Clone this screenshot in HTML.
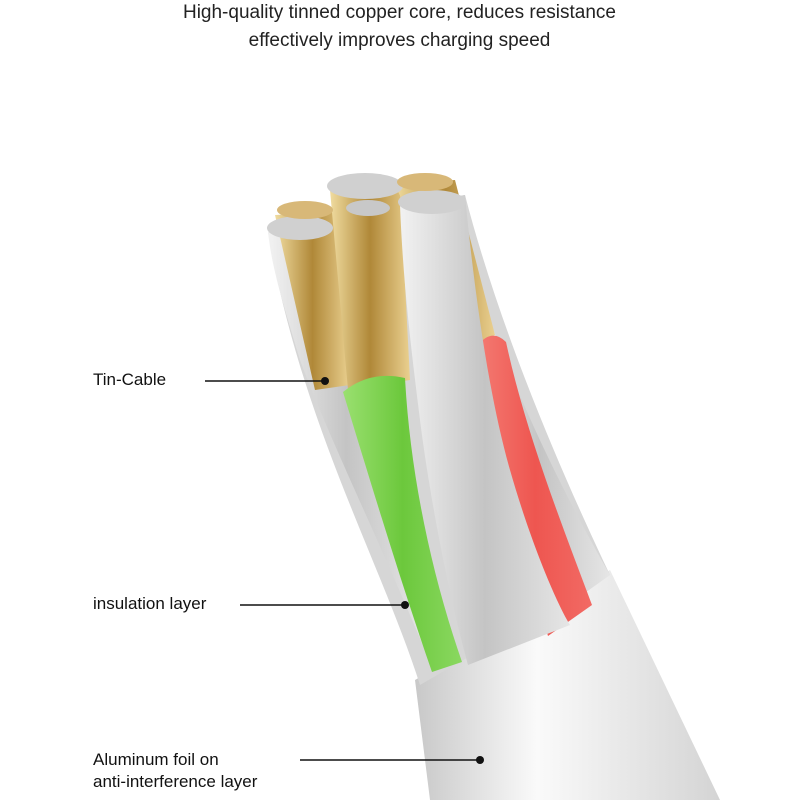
<!DOCTYPE html>
<html><head><style>
body{margin:0;background:#fff;width:799px;height:800px;overflow:hidden;position:relative;font-family:"Liberation Sans",sans-serif;}
.t{position:absolute;left:0;width:799px;text-align:center;font-size:19px;color:#222;}
.l{position:absolute;font-size:17px;color:#111;line-height:22px;}
</style></head><body>
<div class="t" style="top:2px">High-quality tinned copper core, reduces resistance</div>
<div class="t" style="top:30px">effectively improves charging speed</div>
<svg width="799" height="800" style="position:absolute;left:0;top:0">
<defs>
<linearGradient id="s" x1="0" y1="0" x2="1" y2="0"><stop offset="0" stop-color="#f2f2f2"/><stop offset=".5" stop-color="#c4c4c4"/><stop offset="1" stop-color="#e6e6e6"/></linearGradient>
<linearGradient id="g" x1="0" y1="0" x2="1" y2="0"><stop offset="0" stop-color="#f0dca0"/><stop offset=".5" stop-color="#b08838"/><stop offset="1" stop-color="#ead090"/></linearGradient>
<linearGradient id="tube" x1="0" y1="0" x2="1" y2="0"><stop offset="0" stop-color="#c8c8c8"/><stop offset=".4" stop-color="#fafafa"/><stop offset="1" stop-color="#d4d4d4"/></linearGradient>
<linearGradient id="gr" x1="0" y1="0" x2="1" y2="0"><stop offset="0" stop-color="#9ae070"/><stop offset=".5" stop-color="#6cc83c"/><stop offset="1" stop-color="#8ad860"/></linearGradient>
<linearGradient id="r" x1="0" y1="0" x2="1" y2="0"><stop offset="0" stop-color="#f47a72"/><stop offset=".5" stop-color="#ee5650"/><stop offset="1" stop-color="#f26a64"/></linearGradient>
</defs>
<!-- tube -->
<path d="M415,680 L610,570 L720,800 L430,800 Z" fill="url(#tube)"/>
<!-- bundle silhouette -->
<path d="M268,232 L465,195 C500,330 560,470 610,575 L420,685 C380,560 300,420 268,232 Z" fill="#d6d6d6"/>
<!-- left silver -->
<path d="M268,232 L335,228 C340,300 355,400 400,520 L425,650 C370,520 330,440 300,360 C285,310 272,270 268,232 Z" fill="url(#s)"/>
<!-- back right silver -->
<path d="M470,260 C500,360 550,470 610,575 L575,600 C540,500 500,400 470,300 Z" fill="url(#s)"/>
<!-- gold strands -->
<path d="M275,215 L335,212 L350,385 L315,390 Z" fill="url(#g)"/>
<path d="M330,190 L400,188 L410,380 L348,390 Z" fill="url(#g)"/>
<path d="M395,185 L455,180 L495,335 L470,345 Z" fill="url(#g)"/>
<!-- red -->
<path d="M478,345 Q492,328 506,342 C525,430 560,520 592,605 L548,636 C520,540 492,440 478,345 Z" fill="url(#r)"/>
<!-- green -->
<path d="M343,392 Q370,370 405,378 C410,470 430,570 462,662 L432,672 C400,580 370,480 343,392 Z" fill="url(#gr)"/>
<!-- front big silver -->
<path d="M400,205 L465,195 C475,300 490,400 510,470 C530,540 555,600 570,625 L468,665 C450,600 430,500 420,420 C410,340 403,280 400,205 Z" fill="url(#s)"/>
<!-- ends -->
<ellipse cx="365" cy="186" rx="38" ry="13" fill="#d0d0d0"/>
<ellipse cx="300" cy="228" rx="33" ry="12" fill="#d0d0d0"/>
<ellipse cx="432" cy="202" rx="34" ry="12" fill="#d0d0d0"/>
<ellipse cx="305" cy="210" rx="28" ry="9" fill="#d8b878"/>
<ellipse cx="425" cy="182" rx="28" ry="9" fill="#d8b878"/>
<ellipse cx="368" cy="208" rx="22" ry="8" fill="#c8c8c8"/>
<!-- leaders -->
<g stroke="#111" stroke-width="1.5">
<line x1="205" y1="381" x2="325" y2="381"/>
<line x1="240" y1="605" x2="405" y2="605"/>
<line x1="300" y1="760" x2="480" y2="760"/>
</g>
<circle cx="325" cy="381" r="4" fill="#111"/>
<circle cx="405" cy="605" r="4" fill="#111"/>
<circle cx="480" cy="760" r="4" fill="#111"/>
</svg>
<div class="l" style="left:93px;top:369px">Tin-Cable</div>
<div class="l" style="left:93px;top:593px">insulation layer</div>
<div class="l" style="left:93px;top:749px">Aluminum foil on<br>anti-interference layer</div>
</body></html>
